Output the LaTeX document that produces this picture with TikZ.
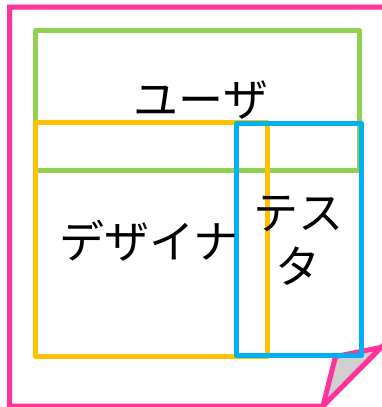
\documentclass[tikz,border=0pt]{standalone}
\usepackage{fontspec}
\newfontfamily\jpfont{Noto Sans CJK JP}
\definecolor{pagepink}{HTML}{FF3399}
\definecolor{usergreen}{HTML}{92D050}
\definecolor{designyellow}{HTML}{FFC000}
\definecolor{testblue}{HTML}{00B0F0}
\definecolor{foldgray}{HTML}{D0D0D0}
\tikzset{
  rolebox/.style={draw, line width=5pt, inner sep=0pt, outer sep=0pt, line join=round},
  rolelabel/.style={inner sep=0pt, align=center, font=\jpfont\fontsize{45}{54}\selectfont},
}
\begin{document}
\begin{tikzpicture}[x=1pt,y=-1pt]
\useasboundingbox (0,0) rectangle (381,407);
% page with folded corner
\coordinate (pB) at (381,347.4);
\coordinate (pC) at (323,406);
\coordinate (pA) at (335.5,356.5);
\draw[pagepink, line width=5pt, fill=white, line join=miter]
  (pC) -- (9.5,406) -- (9.5,7) -- (392,7) -- (392,337) -- (pB) -- cycle;
\draw[pagepink, line width=5pt, fill=foldgray, line join=miter]
  (pB) -- (pA) -- (pC) -- cycle;
% role boxes
\node[rolebox, draw=usergreen, minimum width=323.5pt, minimum height=139.5pt] (user) at (197.25,100.25) {};
\node[rolebox, draw=designyellow, minimum width=232pt, minimum height=234pt] (designer) at (151.5,239.5) {};
\node[rolebox, draw=testblue, minimum width=125pt, minimum height=232pt] (tester) at (299,239.5) {};
% labels
\node[rolelabel] (userlabel) at (201,100) {ユーザ};
\node[rolelabel] (designerlabel) at (149,241) {デザイナ};
\node[rolelabel] (testerlabel) at (298,241) {テス\\タ};
\end{tikzpicture}
\end{document}
